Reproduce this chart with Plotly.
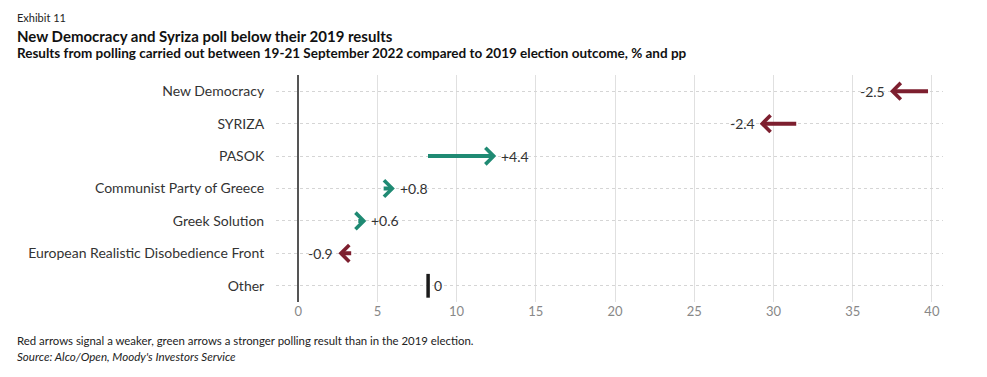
import plotly.graph_objects as go

parties = ["New Democracy", "SYRIZA", "PASOK", "Communist Party of Greece",
           "Greek Solution", "European Realistic Disobedience Front", "Other"]
result_2019 = [39.85, 31.53, 8.1, 5.3, 3.7, 3.44, 8.2]
change_pp = [-2.5, -2.4, 4.4, 0.8, 0.6, -0.9, 0.0]
change_labels = ["-2.5", "-2.4", "+4.4", "+0.8", "+0.6", "-0.9", "0"]
x_ticks = [0, 5, 10, 15, 20, 25, 30, 35, 40]

RED = "#7d1f2f"
GREEN = "#1f8a73"
FONT = "Lato"

fig = go.Figure()
ypos = list(range(len(parties)))

# invisible points anchoring the data range
fig.add_trace(go.Scatter(x=result_2019, y=ypos, mode="markers",
                         marker=dict(size=1, opacity=0), hoverinfo="skip", showlegend=False))

annotations = []
for i, (p, start, ch, lab) in enumerate(zip(parties, result_2019, change_pp, change_labels)):
    end = start + ch
    if ch == 0:
        fig.add_trace(go.Scatter(x=[start], y=[i], mode="markers",
                                 marker=dict(symbol="line-ns", size=17,
                                             line=dict(width=3.5, color="#1a1a1a")),
                                 hoverinfo="skip", showlegend=False))
        annotations.append(dict(x=start, y=i, xref="x", yref="y", text=lab, showarrow=False,
                                xanchor="left", xshift=4, font=dict(size=14, color="#333", family=FONT)))
        continue
    col = GREEN if ch > 0 else RED
    annotations.append(dict(x=end, y=i, xref="x", yref="y", ax=start, ay=i,
                            axref="x", ayref="y", text="", showarrow=True,
                            arrowhead=4, arrowsize=0.8, arrowwidth=4, arrowcolor=col))
    annotations.append(dict(x=end, y=i, xref="x", yref="y", text=lab, showarrow=False,
                            xanchor="left" if ch > 0 else "right",
                            xshift=3 if ch > 0 else -3,
                            font=dict(size=14, color="#333", family=FONT)))

W, H = 987, 377
ML, MR, MT, MB = 276, 44, 75, 75
pw, ph = W - ML - MR, H - MT - MB

def paper_text(px, py, text, size, color="#222"):
    return dict(x=(px - ML) / pw, y=1 - (py - MT) / ph, xref="paper", yref="paper",
                text=text, showarrow=False, xanchor="left", yanchor="middle",
                font=dict(size=size, color=color, family=FONT))

annotations += [
    paper_text(15, 17, "Exhibit 11", 11),
    paper_text(15, 36, "<b>New Democracy and Syriza poll below their 2019 results</b>", 15, "#111"),
    paper_text(15, 53, "<b>Results from polling carried out between 19-21 September 2022 compared to 2019 election outcome, % and pp</b>", 13.5, "#111"),
    paper_text(15, 340, "Red arrows signal a weaker, green arrows a stronger polling result than in the 2019 election.", 11.4),
    paper_text(15, 356, "<i>Source: Alco/Open, Moody's Investors Service</i>", 11.6),
]

fig.update_layout(
    width=W, height=H,
    margin=dict(l=ML, r=MR, t=MT, b=MB, pad=0),
    plot_bgcolor="white", paper_bgcolor="white",
    showlegend=False,
    annotations=annotations,
    font=dict(family=FONT),
    xaxis=dict(range=[-1.4, 40.7], tickvals=x_ticks, showgrid=True, gridcolor="#e0e0e0",
               gridwidth=1, zeroline=True, zerolinecolor="#555", zerolinewidth=2,
               tickfont=dict(size=13, color="#888", family=FONT), ticks="", showline=False,
               fixedrange=True),
    yaxis=dict(range=[6.5, -0.5], tickvals=ypos, ticktext=parties, showgrid=True,
               gridcolor="#d5d5d5", griddash="dot", gridwidth=1, zeroline=False,
               tickfont=dict(size=14, color="#333", family=FONT), ticks="outside",
               ticklen=8, tickcolor="rgba(0,0,0,0)", showline=False, fixedrange=True),
)

fig.write_html("out.html", config={"displayModeBar": False},
               post_script="document.body.style.margin='0px';document.body.style.overflow='hidden';")
